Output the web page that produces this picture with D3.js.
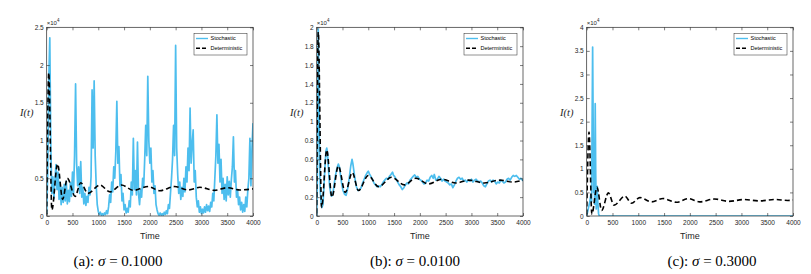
<!DOCTYPE html>
<html>
<head>
<meta charset="utf-8">
<script src="https://cdn.jsdelivr.net/npm/d3@7"></script>
<style>
  body { margin: 0; background: #fff; }
  text { font-family: Arial, "Liberation Sans", sans-serif; }
</style>
</head>
<body>
<svg id="chart" width="811" height="274"></svg>
<script>
// sample times on the x axis
const timeTicks = [0, 500, 1000, 1500, 2000, 2500, 3000, 3500, 4000]
const stepA = 20

// (a) sigma = 0.1 stochastic, one value every 20 time units
const stochA = [
  300, 6000, 18000, 23600, 9000, 3000, 5200, 2300, 4800, 6800,
  3500, 5800, 2200, 4500, 1500, 3800, 1800, 4200, 2000, 4600,
  1600, 3400, 1900, 4400, 2600, 5800, 3000, 8000, 17500, 7000,
  4000, 6500, 3000, 7200, 2500, 3800, 1600, 3000, 1400, 2600,
  1800, 3800, 2800, 5200, 16700, 9000, 17900, 8000, 4000, 1500,
  600, 200, 500, 100, 300, 100, 400, 200, 700, 300,
  1200, 2800, 1800, 4500, 3200, 6500, 5000, 8500, 15200, 7000,
  9200, 4000, 5500, 2000, 3000, 800, 1500, 400, 1000, 500,
  2000, 1200, 4500, 2800, 10300, 3500, 6000, 2800, 9800, 3000,
  1500, 3500, 2500, 5000, 3800, 7500, 12000, 8000, 18500, 10000,
  7000, 9000, 4500, 6000, 3000, 4000, 1500, 800, 300, 100,
  400, 100, 300, 100, 500, 200, 700, 300, 1500, 1000,
  3000, 5000, 7500, 12000, 8000, 22600, 9000, 5500, 3000, 4500,
  2200, 3800, 2600, 5000, 3200, 6500, 4500, 9000, 6000, 14300,
  7000, 9500, 11400, 4500, 6000, 2500, 1200, 2000, 500, 1200,
  300, 900, 400, 1200, 500, 1500, 700, 1300, 600, 1800,
  1200, 3000, 2000, 5000, 8000, 13400, 7000, 9500, 4500, 7500,
  3000, 5000, 2200, 4200, 2000, 5200, 2800, 4600, 2500, 4800,
  6500, 10500, 4500, 6000, 2500, 3500, 1500, 2500, 800, 1800,
  500, 1500, 600, 2500, 1200, 3500, 5000, 10300, 4000, 9000,
  12300
]

// deterministic turning points [time, I]
const detA = [
  [0, 200], [40, 19000], [100, 800], [210, 6900], [310, 2200], [400, 5000],
  [550, 2600], [660, 4400], [800, 3000], [1030, 4100], [1230, 3200],
  [1450, 4100], [1680, 3400], [1970, 3900], [2190, 3350], [2480, 3900],
  [2740, 3450], [2970, 3800], [3250, 3400], [3500, 3750], [3750, 3450],
  [4000, 3600]
]

// (b) sigma = 0.01
const stochB = [
  [0, 0], [10, 3000], [20, 12000], [30, 19800], [40, 15000], [55, 6000],
  [70, 2500], [85, 1500], [100, 900], [120, 1200], [140, 3000], [160, 5200],
  [180, 6900], [195, 7200], [210, 6600], [230, 4800], [250, 3200], [270, 2400],
  [290, 2100], [310, 2300], [330, 3000], [360, 4200], [390, 5000], [420, 5500],
  [440, 5200], [460, 4400], [480, 3600], [510, 2700], [540, 2300], [570, 2200],
  [600, 2900], [630, 4000], [660, 5300], [685, 6000], [700, 5600], [720, 4800],
  [740, 4000], [770, 3100], [800, 2700], [830, 2750], [860, 3000], [890, 3500],
  [920, 3900], [950, 4300], [980, 4600], [1000, 4750], [1020, 4500], [1050, 4200],
  [1080, 3900], [1110, 3500], [1140, 3300], [1170, 3100], [1200, 3200], [1230, 3100],
  [1260, 3300], [1290, 3600], [1320, 3800], [1350, 4000], [1380, 3900], [1410, 4200],
  [1440, 4400], [1470, 4650], [1490, 4300], [1510, 4200], [1540, 3900], [1570, 3600],
  [1600, 3300], [1630, 3100], [1660, 2800], [1690, 3000], [1720, 3300], [1750, 3500],
  [1780, 3400], [1810, 3800], [1840, 4000], [1870, 4200], [1900, 4350], [1930, 4100],
  [1960, 4200], [1990, 3900], [2020, 3800], [2050, 3600], [2080, 3400], [2110, 3500],
  [2140, 3800], [2170, 3700], [2200, 4100], [2230, 4300], [2260, 4000], [2280, 4400],
  [2310, 3800], [2340, 3900], [2370, 4200], [2400, 4000], [2430, 3700], [2460, 3900],
  [2490, 3700], [2520, 3600], [2550, 3500], [2580, 3300], [2610, 3400], [2640, 3000],
  [2670, 3300], [2700, 3700], [2730, 4000], [2760, 4100], [2790, 3900], [2820, 4000],
  [2850, 3700], [2880, 3800], [2910, 3600], [2940, 3800], [2970, 3700], [3000, 3900],
  [3030, 3600], [3060, 3800], [3090, 3900], [3120, 3700], [3150, 3600], [3180, 3700],
  [3210, 3500], [3240, 3200], [3270, 3100], [3300, 3400], [3330, 3700], [3360, 3800],
  [3390, 3600], [3420, 3800], [3450, 3700], [3480, 3400], [3510, 3600], [3540, 3500],
  [3570, 3800], [3600, 3700], [3630, 3500], [3660, 3600], [3690, 3900], [3720, 4000],
  [3750, 3800], [3780, 4100], [3810, 4300], [3840, 4200], [3870, 4300], [3900, 4100],
  [3930, 3900], [3960, 4000], [3990, 3800], [4000, 3700]
]
const detB = [
  [0, 300], [30, 19500], [95, 900], [195, 7000], [295, 2000], [420, 5300],
  [555, 2500], [690, 4600], [810, 2700], [1000, 4300], [1200, 3100],
  [1450, 4100], [1700, 3300], [1920, 4000], [2170, 3400], [2420, 3900],
  [2700, 3500], [2950, 3800], [3250, 3500], [3550, 3800], [3800, 3600],
  [4000, 3800]
]

// (c) sigma = 0.3
const stochC = [
  [0, 0], [30, 1500], [60, 3000], [80, 4500], [95, 3000], [105, 20000],
  [115, 35800], [125, 20000], [135, 5000], [145, 8500], [155, 2500],
  [165, 23800], [175, 9000], [185, 1500], [195, 4000], [205, 6300],
  [215, 3000], [230, 500], [245, 0], [4000, 0]
]
const detC = [
  [0, 300], [45, 17800], [100, 400], [200, 6100], [290, 1200], [420, 4900],
  [530, 2300], [740, 4200], [870, 2700], [1030, 3900], [1260, 3000],
  [1480, 3700], [1740, 2900], [1970, 3700], [2190, 3000], [2480, 3600],
  [2760, 3100], [3050, 3500], [3350, 3200], [3650, 3500], [3900, 3300],
  [4000, 3400]
]

const yTicksA = [0, 5000, 10000, 15000, 20000, 25000]
const yTicksB = [0, 2000, 4000, 6000, 8000, 10000, 12000, 14000, 16000, 18000, 20000]
const yTicksC = [0, 5000, 10000, 15000, 20000, 25000, 30000, 35000, 40000]
const captionTags = ["(a)", "(b)", "(c)"]
const sigmas = ["0.1000", "0.0100", "0.3000"]

const panels = [
  { left: 46.7, capX: 118, yTicks: yTicksA, stoch: stochA.map((v, i) => [i * stepA, v]), det: detA },
  { left: 316.7, capX: 415, yTicks: yTicksB, stoch: stochB, det: detB },
  { left: 586.7, capX: 712, yTicks: yTicksC, stoch: stochC, det: detC },
]

const plotTop = 27.3
const w = 206.3
const h = 188.7
const axisColor = "#262626"
const blue = "#4DBEEE"

const svg = d3.select("#chart")

panels.forEach((p, k) => {
  const x = d3.scaleLinear().domain([0, 4000]).range([0, w])
  const y = d3.scaleLinear().domain([0, d3.max(p.yTicks)]).range([h, 0])

  const g = svg.append("g").attr("transform", `translate(${p.left},${plotTop})`)

  g.append("clipPath").attr("id", "clip" + k)
    .append("rect").attr("width", w).attr("height", h)

  const line = d3.line().x((d) => x(d[0])).y((d) => y(d[1]))
  const smooth = d3.line().x((d) => x(d[0])).y((d) => y(d[1])).curve(d3.curveMonotoneX)

  const plot = g.append("g").attr("clip-path", `url(#clip${k})`)
  plot.append("path")
    .datum(p.stoch)
    .attr("d", line)
    .attr("fill", "none")
    .attr("stroke", blue)
    .attr("stroke-width", 1.7)
    .attr("stroke-linejoin", "round")

  plot.append("path")
    .datum(p.det)
    .attr("d", smooth)
    .attr("fill", "none")
    .attr("stroke", "#000")
    .attr("stroke-width", 1.6)
    .attr("stroke-dasharray", "5,3")

  const fmt = (v) => String(+(v / 1e4).toFixed(1))

  // axes, ticks pointing inward on all four sides
  const styleAxis = (sel) => {
    sel.select(".domain").remove()
    sel.selectAll(".tick line").attr("stroke", axisColor).attr("stroke-width", 0.6)
    sel.selectAll(".tick text").attr("fill", axisColor).style("font-size", "6.5px")
  }
  g.append("g").attr("transform", `translate(0,${h})`)
    .call(d3.axisBottom(x).tickValues(timeTicks).tickSize(-3).tickPadding(4).tickFormat(d3.format("d")))
    .call(styleAxis)
  g.append("g")
    .call(d3.axisTop(x).tickValues(timeTicks).tickSize(-3).tickFormat(""))
    .call(styleAxis)
  g.append("g")
    .call(d3.axisLeft(y).tickValues(p.yTicks).tickSize(-3).tickPadding(3).tickFormat(fmt))
    .call(styleAxis)
  g.append("g").attr("transform", `translate(${w},0)`)
    .call(d3.axisRight(y).tickValues(p.yTicks).tickSize(-3).tickFormat(""))
    .call(styleAxis)

  g.append("rect")
    .attr("width", w).attr("height", h)
    .attr("fill", "none").attr("stroke", axisColor).attr("stroke-width", 0.7)

  // exponent
  const ex = g.append("text").attr("x", 0).attr("y", -2.5)
    .attr("fill", axisColor).style("font-size", "6px")
  ex.append("tspan").text("\u00d710")
  ex.append("tspan").attr("dy", -2.5).style("font-size", "4.5px").text("4")

  g.append("text")
    .attr("x", w / 2).attr("y", h + 23)
    .attr("text-anchor", "middle")
    .attr("fill", axisColor)
    .style("font-size", "9px")
    .text("Time")

  g.append("text")
    .attr("x", -20).attr("y", h / 2 - 6)
    .attr("text-anchor", "middle")
    .style("font-family", "'Liberation Serif', 'Times New Roman', serif")
    .style("font-style", "italic")
    .style("font-size", "10.5px")
    .attr("fill", axisColor)
    .text("I(t)")

  // legend
  const lg = g.append("g").attr("transform", `translate(${w - 59},6)`)
  lg.append("rect").attr("width", 53).attr("height", 21.7)
    .attr("fill", "#fff").attr("stroke", axisColor).attr("stroke-width", 0.5)
  const rows = [
    { label: "Stochastic", color: blue, dash: null },
    { label: "Deterministic", color: "#000", dash: "4,2" },
  ]
  rows.forEach((r, i) => {
    const yy = 5.2 + i * 9.8
    lg.append("line").attr("x1", 2).attr("x2", 14).attr("y1", yy).attr("y2", yy)
      .attr("stroke", r.color).attr("stroke-width", 1.4)
      .attr("stroke-dasharray", r.dash)
    lg.append("text").attr("x", 16.5).attr("y", yy + 2)
      .attr("fill", "#000")
      .style("font-size", "5.5px")
      .text(r.label)
  })

  const cap = svg.append("text")
    .attr("x", p.capX)
    .attr("y", 266)
    .attr("text-anchor", "middle")
    .style("font-family", "'Liberation Serif', 'Times New Roman', serif")
    .style("font-size", "15px")
    .attr("fill", "#000")
  cap.append("tspan").text(captionTags[k] + ": ")
  cap.append("tspan").style("font-style", "italic").text("\u03c3")
  cap.append("tspan").text(" = " + sigmas[k])
})
</script>
</body>
</html>
